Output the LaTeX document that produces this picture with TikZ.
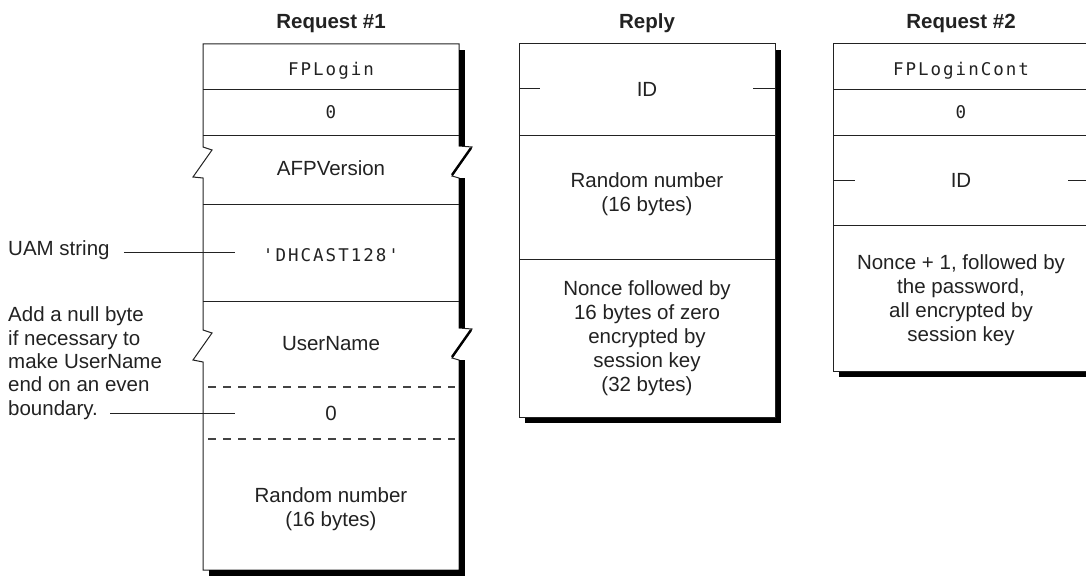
\documentclass[tikz,border=0pt]{standalone}
\usepackage{fontspec}
\setmainfont{Liberation Sans}
\newfontfamily\fieldmono[LetterSpace=11.5]{DejaVu Sans Mono}
\definecolor{ink}{HTML}{222222}
\tikzset{
  txt/.style={font=\fontsize{20.5}{24}\selectfont, text=ink, inner sep=0pt, anchor=base, align=center},
  code/.style={txt, font=\fontsize{17.5}{24}\fieldmono},
  head/.style={txt, font=\fontsize{20.5}{24}\selectfont\bfseries},
  note/.style={txt, align=left, anchor=base west, font=\fontsize{20.5}{23.3}\selectfont},
  frame/.style={draw=ink, line width=1pt, fill=white, line join=miter},
  shadow/.style={fill=black},
  rule/.style={draw=ink, line width=1pt},
  breakline/.style={draw=black, line width=2.4pt},
  gap/.style={draw=ink!85, line width=1.2pt, dash pattern=on 8pt off 7pt},
  leader/.style={draw=ink, line width=1pt},
}
\begin{document}
\begin{tikzpicture}[x=1pt, y=-1pt]
\clip (0,0) rectangle (1086,583);

% ---------- Request #1 (multi-line nodes sit on their last baseline) ----------
\path[frame] (203,44) -- (459,44) -- (459,146) -- (472,147) -- (452,176) -- (459,178)
  -- (459,328) -- (472,329) -- (452,358) -- (459,360) -- (459,570) -- (203,570)
  -- (203,362) -- (193,360) -- (212,333) -- (203,330) -- (203,178) -- (193,177)
  -- (212,150) -- (203,147) -- cycle;
\fill[shadow] (459,50) rectangle (465,146);
\fill[shadow] (459,178) rectangle (465,328);
\fill[shadow] (459,360) rectangle (465,576);
\fill[shadow] (209,570) rectangle (465,576);
\draw[breakline] (471,148) -- (452,175);
\draw[breakline] (471,330) -- (452,357);
\draw[rule] (203,90) -- (459,90);
\draw[rule] (203,135) -- (459,135);
\draw[rule] (203,204) -- (459,204);
\draw[rule] (203,301) -- (459,301);
\draw[gap] (208,387) -- (455,387);
\draw[gap] (208,439) -- (455,439);

\node[head] (t1) at (331,29) {Request \#1};
\node[code] (cmd1) at (331,76) {FPLogin};
\node[code] (pad1) at (331,119) {0};
\node[txt] (ver) at (331,175) {AFPVersion};
\node[code] (uamval) at (331,261) {'DHCAST128'};
\node[txt] (user) at (331,350) {UserName};
\node[txt] (nul) at (331,420) {0};
\node[txt] (rnd1) at (331,526) {Random number\\(16 bytes)};

% side notes
\node[note] (uam) at (8,255) {UAM string};
\node[note] (pad) at (8,415) {Add a null byte\\if necessary to\\make UserName\\end on an even\\boundary.};
\coordinate (uamend) at (235,252);
\coordinate (nulend) at (235,413);
\draw[leader] ([xshift=14pt,yshift=3pt]uam.base east) -- (uamend);
\path (pad.south west) ++(102pt,6.3pt) coordinate (padstart);
\draw[leader] (padstart) -- (padstart -| nulend);

% ---------- Reply ----------
\fill[shadow] (525,50) rectangle (781,423);
\path[frame] (519,44) rectangle (775,417);
\draw[rule] (519,135) -- (775,135);
\draw[rule] (519,259) -- (775,259);
\draw[rule] (519,89) -- (540,89);
\draw[rule] (753,89) -- (775,89);

\node[head] (t2) at (647,29) {Reply};
\node[txt] (id1) at (647,97) {ID};
\node[txt] (rnd2) at (647,211) {Random number\\(16 bytes)};
\node[txt] (nonce1) at (647,391) {Nonce followed by\\16 bytes of zero\\encrypted by\\session key\\(32 bytes)};

% ---------- Request #2 ----------
\fill[shadow] (839,50) rectangle (1095,377);
\path[frame] (833,44) rectangle (1089,371);
\draw[rule] (833,90) -- (1089,90);
\draw[rule] (833,135) -- (1089,135);
\draw[rule] (833,225) -- (1089,225);
\draw[rule] (833,180) -- (855,180);
\draw[rule] (1068,180) -- (1089,180);

\node[head] (t3) at (961,29) {Request \#2};
\node[code] (cmd2) at (961,76) {FPLoginCont};
\node[code] (pad2) at (961,119) {0};
\node[txt] (id2) at (961,187) {ID};
\node[txt] (nonce2) at (961,341) {Nonce + 1, followed by\\the password,\\all encrypted by\\session key};
\end{tikzpicture}
\end{document}
